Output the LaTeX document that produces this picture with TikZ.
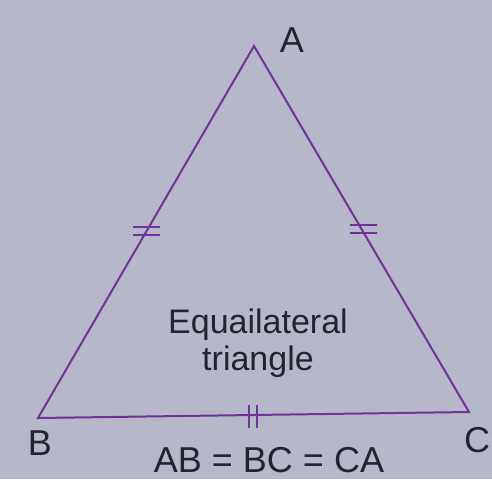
\documentclass[tikz,border=0pt]{standalone}
\usepackage{fontspec}
\setmainfont{Liberation Sans}
\definecolor{bg}{RGB}{182,184,202}
\definecolor{tri}{RGB}{112,50,150}
\definecolor{ink}{RGB}{35,35,45}
\begin{document}
\begin{tikzpicture}[x=1pt,y=-1pt,
  side/.style={draw=tri,line width=2pt,line join=miter},
  tick/.style={draw=tri,line width=1.6pt},
  lbl/.style={text=ink,font=\fontsize{36}{40}\selectfont,anchor=base,inner sep=0pt},
  body/.style={text=ink,font=\fontsize{34}{38}\selectfont,anchor=base,inner sep=0pt}]
\fill[bg] (0,0) rectangle (492,479);
\useasboundingbox (0,0) rectangle (492,479);
\coordinate (A) at (254,46);
\coordinate (B) at (38,418);
\coordinate (C) at (469,412);
\draw[side] (A) -- (B) -- (C) -- cycle;
% ticks on AB
\coordinate (t1a) at (133,227); \coordinate (t1b) at (160,227);
\coordinate (t1c) at (133,235); \coordinate (t1d) at (160,235);
\draw[tick] (t1a) -- (t1b); \draw[tick] (t1c) -- (t1d);
% ticks on AC
\coordinate (t2a) at (350,225); \coordinate (t2b) at (377,225);
\coordinate (t2c) at (350,233); \coordinate (t2d) at (377,233);
\draw[tick] (t2a) -- (t2b); \draw[tick] (t2c) -- (t2d);
% ticks on BC
\coordinate (t3a) at (249,405); \coordinate (t3b) at (249,428);
\coordinate (t3c) at (257,405); \coordinate (t3d) at (257,428);
\draw[tick] (t3a) -- (t3b); \draw[tick] (t3c) -- (t3d);
\node[lbl] (la) at (292,52) {A};
\node[lbl] (lb) at (40,455) {B};
\node[lbl] (lc) at (477,452) {C};
\node[body] (t1) at (258,333) {Equailateral};
\node[body] (t2) at (258,370) {triangle};
\node[lbl] (eq) at (269,472) {AB = BC = CA};
\end{tikzpicture}
\end{document}
